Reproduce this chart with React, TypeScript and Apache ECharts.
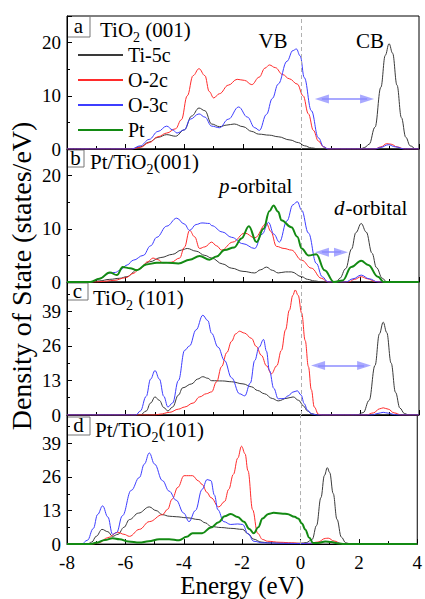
import React, { useEffect, useRef } from 'react';
import * as echarts from 'echarts';

type P = [number, number][];

// ---------- data (Energy eV, DOS states/eV) ----------
const seriesNames = ['Ti-5c', 'O-2c', 'O-3c', 'Pt'];

const a_ti5c: P = [[-8,0],[-5.8,0],[-5.5,0.4],[-5.2,1.3],[-4.9,2.2],[-4.6,2.7],[-4.3,2.4],[-4.0,3.6],[-3.75,6.2],[-3.5,7.7],[-3.3,7.2],[-3.07,4.7],[-2.8,4.2],[-2.55,4.5],[-2.3,4.7],[-2.0,4.2],[-1.7,3.3],[-1.47,2.8],[-1.1,2.6],[-0.8,2.3],[-0.4,1.7],[-0.11,1.2],[0.1,0.6],[0.33,0.2],[0.6,0],[2.0,0],[2.15,0.3],[2.3,0.9],[2.5,4.1],[2.7,11.6],[2.85,17.6],[2.98,19.8],[3.1,18],[3.25,12],[3.4,5.9],[3.55,2.2],[3.7,0.6],[3.9,0],[4,0]];
const a_o2c: P = [[-8,0],[-5.8,0],[-5.5,0.3],[-5.2,1.2],[-4.9,2.3],[-4.6,3.0],[-4.3,3.8],[-4.1,5.5],[-3.9,10],[-3.7,13.8],[-3.5,15.1],[-3.3,13.8],[-3.15,10.8],[-3.0,9.6],[-2.8,10.4],[-2.5,12],[-2.2,13.1],[-1.95,12.9],[-1.7,12.1],[-1.45,13.5],[-1.25,15.2],[-1.1,15.8],[-0.9,15.3],[-0.65,14],[-0.42,13.2],[-0.15,12.2],[0.05,10],[0.23,6.6],[0.4,3.5],[0.57,1.5],[0.75,0.4],[0.9,0],[2.5,0],[2.7,0.4],[2.9,1.0],[3.05,0.9],[3.25,0.4],[3.5,0],[4,0]];
const a_o3c: P = [[-8,0],[-5.8,0],[-5.5,0.6],[-5.2,1.8],[-4.9,3.3],[-4.6,4.3],[-4.4,3.6],[-4.25,3.0],[-4.0,3.6],[-3.8,5.6],[-3.5,6.6],[-3.3,6.0],[-3.07,4.3],[-2.8,4.0],[-2.5,5.6],[-2.15,7.9],[-1.85,6.0],[-1.6,4.0],[-1.44,3.5],[-1.2,6.5],[-1.0,9.5],[-0.8,12.2],[-0.5,16.5],[-0.3,18.5],[-0.18,18.8],[-0.05,17.5],[0.09,13.4],[0.33,7.2],[0.57,2.1],[0.75,0.4],[0.9,0],[2.5,0],[2.7,0.3],[2.95,0.8],[3.2,0.4],[3.5,0],[4,0]];

const b_ti5c: P = [[-8,0],[-7.2,0],[-6.9,0.2],[-6.54,0.5],[-6.2,0.7],[-5.96,1.0],[-5.6,2.3],[-5.18,3.8],[-4.8,4.6],[-4.4,5.2],[-4.1,6.0],[-3.9,6.3],[-3.6,5.8],[-3.3,5.0],[-3.07,4.5],[-2.7,3.4],[-2.39,2.6],[-2.0,2.0],[-1.6,1.7],[-1.4,2.3],[-1.2,2.8],[-1.0,2.2],[-0.8,1.7],[-0.55,1.9],[-0.35,1.9],[0.0,1.0],[0.2,0.5],[0.43,0.2],[0.7,0],[1.2,0],[1.3,0.7],[1.5,2.5],[1.7,6.2],[1.85,9.3],[2.03,11.0],[2.2,9.4],[2.4,5.4],[2.55,2.7],[2.75,0.7],[2.9,0],[4,0]];
const b_o2c: P = [[-8,0],[-7.0,0],[-6.8,0.1],[-6.4,0.3],[-6.0,0.8],[-5.75,1.6],[-5.5,2.6],[-5.25,3.8],[-5.07,4.5],[-4.9,4.2],[-4.73,3.6],[-4.45,3.7],[-4.16,4.5],[-4.0,6.5],[-3.82,9.7],[-3.65,8.5],[-3.48,6.3],[-3.3,6.6],[-3.07,7.5],[-2.9,6.8],[-2.73,6.0],[-2.35,7.5],[-1.94,9.2],[-1.6,8.3],[-1.2,11.0],[-1.05,9.5],[-0.86,6.7],[-0.6,6.3],[-0.35,6.0],[0.0,4.1],[0.33,2.6],[0.67,0.7],[0.9,0],[1.6,0],[1.8,0.5],[2.03,1.0],[2.25,0.6],[2.5,0.1],[2.7,0],[4,0]];
const b_o3c: P = [[-8,0],[-7.2,0],[-6.9,0.6],[-6.54,1.7],[-6.35,1.8],[-6.2,2.2],[-5.95,3.2],[-5.74,4.1],[-5.4,5.0],[-5.15,6.8],[-4.94,8.4],[-4.6,10.5],[-4.26,12.0],[-4.0,10.9],[-3.82,9.7],[-3.6,10.8],[-3.4,11.1],[-3.14,11.0],[-3.07,10.6],[-2.7,9.4],[-2.39,8.4],[-2.0,7.2],[-1.6,6.3],[-1.35,9.0],[-1.13,11.2],[-0.95,9.0],[-0.76,7.5],[-0.5,11.5],[-0.3,14.5],[-0.15,15.1],[0.0,13.5],[0.23,9.2],[0.5,3.5],[0.7,1.0],[0.9,0],[1.5,0],[1.75,0.6],[2.03,1.3],[2.3,0.6],[2.6,0],[4,0]];
const b_pt: P = [[-8,0],[-7.2,0],[-6.9,0.6],[-6.54,1.8],[-6.3,1.3],[-6.1,2.8],[-5.85,2.6],[-5.62,2.2],[-5.3,3.3],[-4.94,3.6],[-4.6,3.6],[-4.2,3.5],[-3.82,4.2],[-3.48,4.9],[-3.14,4.2],[-2.9,4.8],[-2.63,6.0],[-2.3,6.5],[-2.05,8.2],[-1.8,10.5],[-1.54,7.5],[-1.3,10.0],[-1.1,13.3],[-0.96,14.4],[-0.8,13.2],[-0.69,11.6],[-0.35,10.3],[-0.15,8.5],[0.0,6.3],[0.23,5.0],[0.5,5.2],[0.78,2.2],[1.1,0],[1.4,0.3],[1.69,2.8],[2.03,4.0],[2.27,3.2],[2.6,1.0],[2.8,0],[4,0]];

const c_ti5c: P = [[-8,0],[-5.5,0],[-5.3,1.5],[-5.15,4.5],[-5.0,6.8],[-4.85,5.5],[-4.7,2.8],[-4.56,1.5],[-4.4,3.0],[-4.2,7.5],[-4.06,10.2],[-3.75,11.7],[-3.55,13.5],[-3.37,14.4],[-3.2,13.8],[-3.07,12.9],[-2.7,12.8],[-2.39,12.5],[-2.0,11.7],[-1.71,10.6],[-1.5,9.2],[-1.27,8.0],[-1.0,6.2],[-0.8,5.3],[-0.5,6.3],[-0.29,6.8],[-0.1,5.5],[0.06,3.4],[0.2,1.5],[0.33,0.5],[0.55,0],[1.7,0],[1.9,0.1],[2.1,0.9],[2.3,5.5],[2.5,18.6],[2.65,30.5],[2.78,34.9],[2.9,31],[3.05,19.5],[3.2,8.5],[3.35,2.6],[3.5,0.6],[3.65,0],[4,0]];
const c_o2c: P = [[-8,0],[-5.0,0],[-4.84,0.3],[-4.5,1.0],[-4.2,2.2],[-3.99,3.0],[-3.7,4.5],[-3.48,6.8],[-3.25,8.0],[-3.07,8.7],[-2.9,12.5],[-2.73,18.2],[-2.55,23.5],[-2.39,27.7],[-2.25,30.5],[-2.12,31.5],[-1.95,30.8],[-1.71,28.8],[-1.55,25.8],[-1.37,22.4],[-1.2,18.5],[-1.03,15.5],[-0.85,18.5],[-0.69,24.3],[-0.55,32],[-0.42,39.4],[-0.3,45],[-0.22,47],[-0.12,45],[0.0,38.3],[0.12,28],[0.23,18.2],[0.33,9.5],[0.43,3.0],[0.57,0.3],[0.7,0],[2.2,0],[2.45,0.8],[2.65,2.3],[2.78,2.7],[2.95,2.2],[3.15,0.8],[3.4,0],[4,0]];
const c_o3c: P = [[-8,0],[-5.65,0],[-5.5,1.5],[-5.3,7],[-5.15,13.5],[-5.0,16.7],[-4.85,13.5],[-4.7,7],[-4.56,3.0],[-4.4,4.5],[-4.2,13],[-3.99,24.3],[-3.82,26],[-3.6,32],[-3.37,37.5],[-3.2,35.5],[-3.07,30.7],[-2.85,25.5],[-2.63,20.5],[-2.39,14],[-2.12,8],[-1.94,7.2],[-1.75,12],[-1.6,20.5],[-1.45,25.5],[-1.3,28.4],[-1.2,24],[-1.1,16.7],[-0.95,10],[-0.8,6.1],[-0.6,6.2],[-0.46,7.2],[-0.3,8.6],[-0.15,9.1],[-0.02,7.5],[0.09,4.2],[0.2,1.8],[0.33,0.5],[0.5,0],[2.4,0],[2.6,0.6],[2.78,1.0],[2.95,0.7],[3.2,0.1],[3.3,0],[4,0]];

const d_ti5c: P = [[-8,0],[-7.3,0],[-7.15,0.8],[-7.0,3.0],[-6.8,5.7],[-6.6,4.8],[-6.44,3.0],[-6.25,3.8],[-6.05,6.5],[-5.86,9.5],[-5.55,12.0],[-5.18,14.4],[-4.95,13.0],[-4.73,11.4],[-4.5,10.8],[-4.26,10.6],[-3.9,10.2],[-3.48,9.5],[-3.25,8.2],[-3.07,6.8],[-2.7,6.4],[-2.39,6.1],[-1.98,5.7],[-1.8,4.0],[-1.6,1.9],[-1.35,0.8],[-1.13,0.5],[-0.5,0.3],[0,0.3],[0.2,0.6],[0.4,1.8],[0.55,7.2],[0.7,18],[0.82,26.6],[0.92,29.6],[1.0,27.7],[1.12,19.6],[1.25,9.6],[1.4,2.7],[1.55,0.5],[1.7,0.1],[1.85,0],[4,0]];
const d_o2c: P = [[-8,0],[-7.1,0],[-6.9,0.6],[-6.6,2.5],[-6.26,4.6],[-6.05,3.8],[-5.86,3.0],[-5.52,5.7],[-5.18,8.7],[-4.73,11.4],[-4.55,13.5],[-4.4,17.4],[-4.2,22],[-3.99,26.5],[-3.7,26.5],[-3.5,24.5],[-3.37,23.1],[-3.2,20],[-3.07,18],[-2.8,14.4],[-2.6,16.5],[-2.46,21.2],[-2.3,27],[-2.15,33.3],[-2.02,37.9],[-1.9,35],[-1.8,28.4],[-1.64,13.3],[-1.47,4.2],[-1.3,1.8],[-1.13,1.1],[-0.7,0.7],[-0.3,0.5],[0,0.3],[0.3,0.2],[0.6,0.8],[0.85,2.2],[0.95,2.3],[1.15,1.2],[1.4,0.2],[1.6,0],[4,0]];
const d_o3c: P = [[-8,0],[-7.5,0],[-7.3,1.5],[-7.1,6],[-6.95,11.5],[-6.78,14.8],[-6.6,10.5],[-6.44,3.8],[-6.3,4.5],[-6.1,11],[-5.8,20.8],[-5.52,25.8],[-5.35,31],[-5.18,35.3],[-5.0,31],[-4.73,24.6],[-4.5,20.5],[-4.26,17],[-4.0,12],[-3.82,8.7],[-3.6,13],[-3.37,21.2],[-3.2,25],[-3.07,24.6],[-2.95,19],[-2.83,13.3],[-2.63,8.7],[-2.39,7.6],[-2.15,7.8],[-1.98,7.6],[-1.8,4],[-1.6,1.1],[-1.3,0.5],[-0.5,0.3],[0,0.2],[0.5,0.4],[0.9,1.0],[1.2,0.5],[1.5,0],[4,0]];
const d_pt: P = [[-8,0],[-7.2,0],[-7.0,0.5],[-6.7,1.6],[-6.44,2.3],[-6.2,1.9],[-5.9,1.0],[-5.52,0.6],[-5.2,1.1],[-4.84,1.9],[-4.5,1.9],[-4.16,1.5],[-3.9,2.8],[-3.7,4.2],[-3.37,4.2],[-3.07,6.4],[-2.8,8.5],[-2.6,10.8],[-2.39,11.7],[-2.15,10.5],[-1.94,8.7],[-1.75,5.8],[-1.6,4.2],[-1.45,6.5],[-1.3,9.9],[-1.1,11.7],[-0.92,12.1],[-0.6,11.8],[-0.46,11.7],[-0.2,10.6],[-0.08,9.9],[0.05,8.0],[0.16,5.7],[0.3,2.5],[0.43,0.4],[0.6,0.4],[0.85,1.0],[1.05,0.8],[1.3,0.2],[1.5,0],[4,0]];

const panelSeries: (P | null)[][] = [
  [a_ti5c, a_o2c, a_o3c, null],
  [b_ti5c, b_o2c, b_o3c, b_pt],
  [c_ti5c, c_o2c, c_o3c, null],
  [d_ti5c, d_o2c, d_o3c, d_pt],
];

const yMax = [25, 25, 50, 50];
const yInterval = [10, 10, 13, 13];
const xTicks = { min: -8, max: 4, interval: 2 };

// gap arrows: [fromE, toE, level]
const gapArrows: ([number, number, number] | null)[] = [
  [0.69, 2.23, 9.4],
  [0.69, 1.34, 5.6],
  [0.56, 2.13, 18.6],
  null,
];

const panelLetters = ['a', 'b', 'c', 'd'];
const panelTitles = [
  ['TiO', '2', ' (001)'],
  ['Pt/TiO', '2', '(001)'],
  ['TiO', '2', ' (101)'],
  ['Pt/TiO', '2', '(101)'],
];

// ---------- layout / style ----------
const FONT = 'Liberation Serif';
const COLORS = ['#3a3a3a', '#ff2b2b', '#3d3dff', '#138a13'];
const WIDTHS = [1, 1, 1, 2];
const PANEL_TOPS = [16, 149, 282, 415];
const PANEL_H = 133;
const LEFT = 67;
const RIGHT = 6;
const boxes = [
  [67, 16, 23, 21],
  [67, 150, 17, 17],
  [67, 283, 21, 17],
  [67, 417, 23, 18],
];
const titleX = [100, 90, 93, 95];
const titleBaseline = [37.5, 169.5, 305, 437];
const CENTRAL = 0.3375; // central-baseline offset (em) for Liberation Serif

export default function App() {
  const ref = useRef<HTMLDivElement>(null);
  useEffect(() => {
    if (!ref.current) return;
    const chart = echarts.init(ref.current, null, { renderer: 'svg' });

    const ctx = document.createElement('canvas').getContext('2d') as CanvasRenderingContext2D;
    const measure = (t: string, fs: number) => {
      ctx.font = `${fs}px ${FONT}`;
      return ctx.measureText(t).width;
    };

    const grid = PANEL_TOPS.map((t) => ({
      left: LEFT, right: RIGHT, top: t, height: PANEL_H,
      show: true, borderColor: '#000', borderWidth: 1, backgroundColor: 'transparent',
    }));

    const xAxis = PANEL_TOPS.map((_, i) => ({
      gridIndex: i, type: 'value', min: xTicks.min, max: xTicks.max, interval: xTicks.interval,
      axisLine: { show: true, onZero: false, lineStyle: { color: '#000', width: 1 } },
      axisTick: { show: true, inside: true, length: 5, lineStyle: { color: '#000' } },
      minorTick: { show: true, splitNumber: 2, length: 3, lineStyle: { color: '#000' } },
      splitLine: { show: false },
      minorSplitLine: { show: false },
      axisLabel: { show: i === 3, fontSize: 19, fontFamily: FONT, color: '#000', margin: 9 },
      name: i === 3 ? 'Energy (eV)' : '',
      nameLocation: 'middle', nameGap: 25,
      nameTextStyle: { fontSize: 25, fontFamily: FONT, color: '#000' },
    }));

    const yAxis = PANEL_TOPS.map((_, i) => ({
      gridIndex: i, type: 'value', min: 0, max: yMax[i], interval: yInterval[i],
      axisLine: { show: true, onZero: false, lineStyle: { color: '#000', width: 1 } },
      axisTick: { show: true, inside: true, length: 5, lineStyle: { color: '#000' } },
      minorTick: { show: true, splitNumber: 2, length: 3, lineStyle: { color: '#000' } },
      splitLine: { show: false },
      axisLabel: { fontSize: 19, fontFamily: FONT, color: '#000', margin: 6, showMaxLabel: false },
    }));

    const series: any[] = [];
    panelSeries.forEach((list, p) => {
      list.forEach((data, k) => {
        if (!data) return;
        const s: any = {
          type: 'line', name: seriesNames[k], xAxisIndex: p, yAxisIndex: p,
          data, symbol: 'none', showSymbol: false, smooth: 0.4, smoothMonotone: 'x',
          lineStyle: { color: COLORS[k], width: WIDTHS[k] },
          itemStyle: { color: COLORS[k] },
          silent: true, z: 2 + k, emphasis: { disabled: true },
        };
        if (k === 0) {
          const dash = { color: '#b0b0b0', type: [4, 3], width: 1 };
          s.markLine = {
            silent: true, symbol: ['none', 'none'], label: { show: false },
            lineStyle: dash,
            emphasis: { disabled: true },
            data: [{ xAxis: 0, lineStyle: dash }],
          };
        }
        if (k === 1 && gapArrows[p]) {
          const [e1, e2, lv] = gapArrows[p] as [number, number, number];
          s.markLine = {
            silent: true, symbol: ['triangle', 'triangle'], symbolSize: [9, 14],
            label: { show: false },
            lineStyle: { color: '#8c8cff', type: 'solid', width: 2, opacity: 0.75 },
            emphasis: { disabled: true },
            data: [[{ coord: [e1, lv] }, { coord: [e2, lv] }]],
          };
        }
        series.push(s);
      });
    });

    const txt = (text: string, x: number, baseline: number, fs: number, align = 'left', italic = false) => ({
      type: 'text', x, y: baseline - CENTRAL * fs, silent: true,
      style: { text, fontSize: fs, fontFamily: FONT, fontStyle: italic ? 'italic' : 'normal', fill: '#000', align, verticalAlign: 'middle' },
    });

    const graphic: any[] = [];
    boxes.forEach((b, i) => {
      graphic.push({
        type: 'rect', shape: { x: b[0], y: b[1], width: b[2], height: b[3] },
        style: { fill: 'none', stroke: '#777', lineWidth: 1 }, silent: true,
      });
      graphic.push({
        type: 'text', x: b[0] + b[2] / 2, y: b[1] + b[3] / 2 - 1,
        style: { text: panelLetters[i], fontSize: 21, fontFamily: FONT, fill: '#000', align: 'center', verticalAlign: 'middle' },
        silent: true,
      });
      const [m1, sub, m2] = panelTitles[i];
      const bl = titleBaseline[i];
      const w1 = measure(m1, 21);
      const ws = measure(sub, 14);
      graphic.push(txt(m1, titleX[i], bl, 21));
      graphic.push(txt(sub, titleX[i] + w1, bl + 5, 14));
      graphic.push(txt(m2, titleX[i] + w1 + ws, bl, 21));
    });
    graphic.push(txt('VB', 273, 48, 21, 'center'));
    graphic.push(txt('CB', 370, 48, 21, 'center'));
    const orbital = (letter: string, x: number, baseline: number) => {
      const w = measure(letter, 21);
      graphic.push(txt(letter, x, baseline, 21, 'left', true));
      graphic.push(txt('-orbital', x + w + 1, baseline, 21));
    };
    orbital('p', 219, 193);
    orbital('d', 334, 215);
    graphic.push({
      type: 'text', x: 21, y: 276, rotation: Math.PI / 2,
      style: { text: 'Density of State (states/eV)', fontSize: 28, fontFamily: FONT, fill: '#000', align: 'center', verticalAlign: 'middle' },
      silent: true,
    });

    chart.setOption({
      animation: false,
      backgroundColor: '#fff',
      grid, xAxis, yAxis, series, graphic,
      legend: {
        data: seriesNames, orient: 'vertical', left: 72, top: 40,
        itemWidth: 45, itemHeight: 14, itemGap: 5, selectedMode: false,
        itemStyle: { color: 'transparent', borderWidth: 0, opacity: 0 },
        textStyle: { fontSize: 20, fontFamily: FONT, color: '#000', lineHeight: 20 },
      },
    });
    return () => chart.dispose();
  }, []);
  return <div ref={ref} style={{ position: 'fixed', left: 0, top: 0, width: 425, height: 599 }} />;
}
